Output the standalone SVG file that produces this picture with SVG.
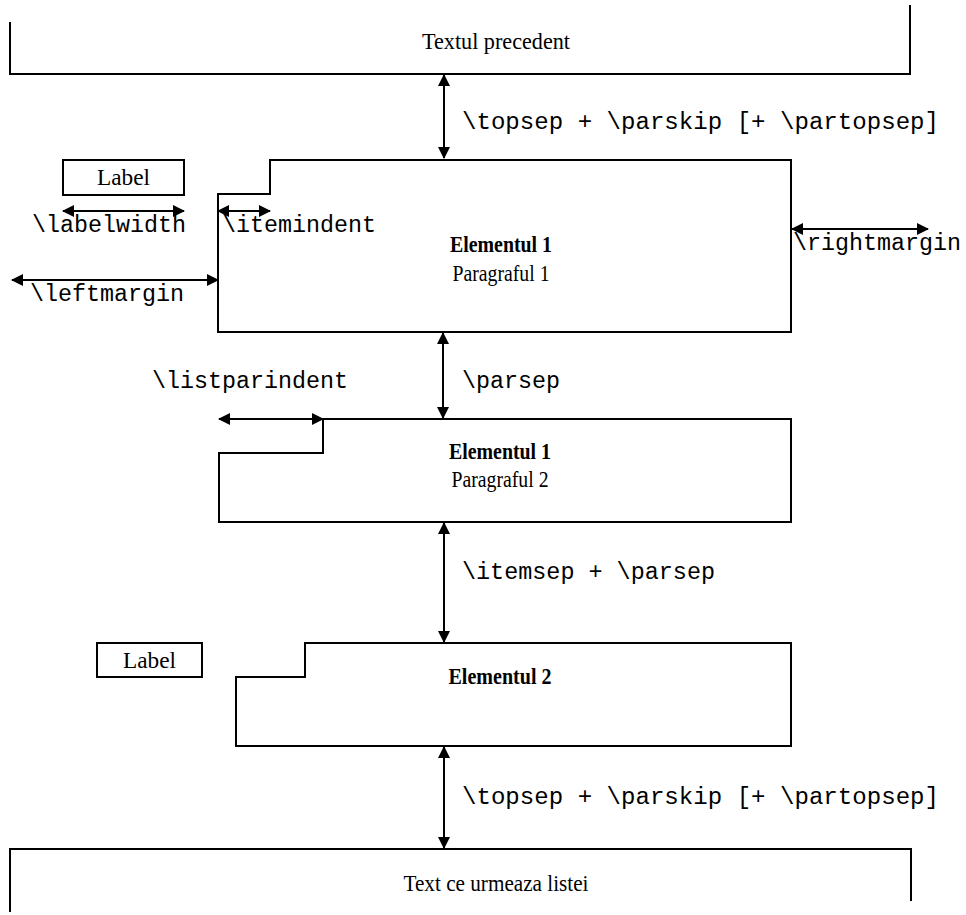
<svg xmlns="http://www.w3.org/2000/svg" width="966" height="915" viewBox="0 0 966 915">
<style>
.ln{fill:none;stroke:#000;stroke-width:2}
.bx{fill:#fff;stroke:#000;stroke-width:2}
.ar{fill:none;stroke:#000;stroke-width:2;marker-start:url(#ah);marker-end:url(#ah)}
.sr{font-family:"Liberation Serif","Times New Roman",serif;font-size:24px;fill:#000}
.b{font-weight:bold}
.mo{font-family:"Liberation Mono","Courier New",monospace;font-size:23px;fill:#000}
</style>
<defs>
<marker id="ah" viewBox="0 0 12 12" refX="11" refY="6" markerWidth="12" markerHeight="12" markerUnits="userSpaceOnUse" orient="auto-start-reverse">
<path d="M0,0 L12,6 L0,12 Z" fill="#000"/>
</marker>
</defs>
<g id="prev">
<path class="ln" d="M10,22 V74 H910 V5"/>
<text class="sr" x="496" y="49" text-anchor="middle" textLength="148" lengthAdjust="spacingAndGlyphs">Textul precedent</text>
</g>
<g id="label1">
<rect class="bx" x="63" y="160" width="121" height="35"/>
<text class="sr" x="123.5" y="185" text-anchor="middle" textLength="53" lengthAdjust="spacingAndGlyphs">Label</text>
</g>
<g id="item1p1">
<path class="bx" d="M218,194 H270 V160 H791 V332 H218 Z"/>
<text class="sr b" x="501" y="252" text-anchor="middle" textLength="102" lengthAdjust="spacingAndGlyphs">Elementul 1</text>
<text class="sr" x="501" y="281" text-anchor="middle" textLength="97" lengthAdjust="spacingAndGlyphs">Paragraful 1</text>
</g>
<g id="item1p2">
<path class="bx" d="M219,453 H323 V419 H791 V522 H219 Z"/>
<text class="sr b" x="500" y="459" text-anchor="middle" textLength="102" lengthAdjust="spacingAndGlyphs">Elementul 1</text>
<text class="sr" x="500" y="487" text-anchor="middle" textLength="97" lengthAdjust="spacingAndGlyphs">Paragraful 2</text>
</g>
<g id="label2">
<rect class="bx" x="97" y="643" width="105" height="34"/>
<text class="sr" x="149.5" y="668" text-anchor="middle" textLength="53" lengthAdjust="spacingAndGlyphs">Label</text>
</g>
<g id="item2">
<path class="bx" d="M236,677 H305 V643 H791 V746 H236 Z"/>
<text class="sr b" x="500" y="684" text-anchor="middle" textLength="103" lengthAdjust="spacingAndGlyphs">Elementul 2</text>
</g>
<g id="next">
<path class="ln" d="M10,912 V849 H911 V901"/>
<text class="sr" x="496" y="891" text-anchor="middle" textLength="185" lengthAdjust="spacingAndGlyphs">Text ce urmeaza listei</text>
</g>
<g id="connectors">
<line class="ar" x1="444" y1="75" x2="444" y2="158"/>
<line class="ar" x1="63" y1="211" x2="184" y2="211"/>
<line class="ar" x1="218" y1="211" x2="270" y2="211"/>
<line class="ar" x1="12" y1="280" x2="218" y2="280"/>
<line class="ar" x1="792" y1="229" x2="928" y2="229"/>
<line class="ar" x1="443" y1="333" x2="443" y2="418"/>
<line class="ar" x1="219" y1="419" x2="323" y2="419"/>
<line class="ar" x1="444" y1="523" x2="444" y2="642"/>
<line class="ar" x1="444" y1="747" x2="444" y2="848"/>
</g>
<g id="labels">
<text class="mo" x="462" y="129" textLength="477" lengthAdjust="spacingAndGlyphs">\topsep + \parskip [+ \partopsep]</text>
<text class="mo" x="32" y="232" textLength="154" lengthAdjust="spacingAndGlyphs">\labelwidth</text>
<text class="mo" x="222" y="232" textLength="154" lengthAdjust="spacingAndGlyphs">\itemindent</text>
<text class="mo" x="30" y="301" textLength="154" lengthAdjust="spacingAndGlyphs">\leftmargin</text>
<text class="mo" x="793" y="250" textLength="168" lengthAdjust="spacingAndGlyphs">\rightmargin</text>
<text class="mo" x="152" y="388" textLength="196" lengthAdjust="spacingAndGlyphs">\listparindent</text>
<text class="mo" x="462" y="388" textLength="98" lengthAdjust="spacingAndGlyphs">\parsep</text>
<text class="mo" x="462" y="579" textLength="253" lengthAdjust="spacingAndGlyphs">\itemsep + \parsep</text>
<text class="mo" x="462" y="804" textLength="477" lengthAdjust="spacingAndGlyphs">\topsep + \parskip [+ \partopsep]</text>
</g>
</svg>
